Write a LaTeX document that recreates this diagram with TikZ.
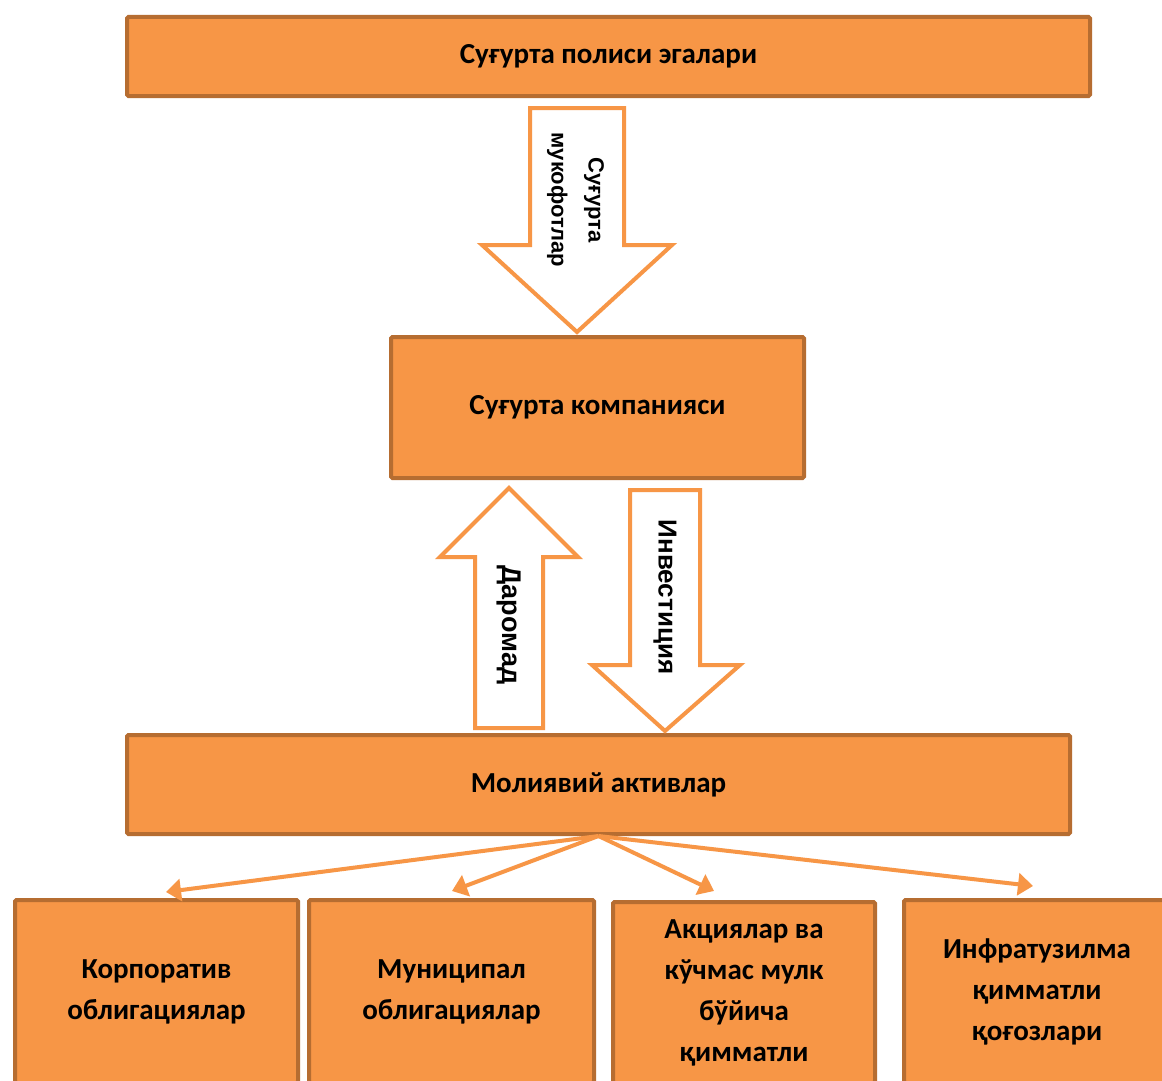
\documentclass[tikz,border=0pt]{standalone}
\usepackage{fontspec}
\setmainfont{Carlito}
\newfontfamily\arrowfont{Liberation Sans}
\usepackage{xcolor}
\usetikzlibrary{positioning,arrows.meta}
\definecolor{boxfill}{HTML}{F79646}
\definecolor{boxline}{HTML}{B66D31}
\begin{document}
\begin{tikzpicture}[x=1pt,y=-1pt,
    box/.style={draw=boxline,fill=boxfill,line width=4pt,rounded corners=1.5pt,
      inner sep=0pt,align=center,font=\bfseries\fontsize{29}{41}\selectfont},
    blockarrow/.style={draw=boxfill,fill=white,line width=4pt,line join=miter},
    arrowtext/.style={rotate=-90,align=center,font=\arrowfont\bfseries\fontsize{26}{30}\selectfont},
    link/.style={draw=boxfill,line width=4pt,-{Triangle[length=15pt,width=22pt]}}]
    \fill[white] (0,0) rectangle (1162,1081);
    \useasboundingbox (0,0) rectangle (1162,1081);
    \clip (0,0) rectangle (1162,1081);
    % boxes
    \node[box,minimum width=963pt,minimum height=79pt] (owners) at (608.5,56.5) {Суғурта полиси эгалари};
    \node[box,minimum width=413pt,minimum height=141pt] (company) at (597.5,407.5) {Суғурта компанияси};
    \node[box,minimum width=943pt,minimum height=99pt] (assets) at (598.5,784.5) {Молиявий активлар};
    \node[box,minimum width=283pt,minimum height=183pt] (corp) at (156.5,991.5) {Корпоратив\\облигациялар};
    \node[box,minimum width=285pt,minimum height=183pt] (muni) at (451.5,991.5) {Муниципал\\облигациялар};
    \node[box,minimum width=262pt,minimum height=181pt] (stock) at (744,992.5) {Акциялар ва\\кўчмас мулк\\бўйича\\қимматли};
    \node[box,minimum width=266pt,minimum height=183pt] (infra) at (1037,991.5) {Инфратузилма\\қимматли\\қоғозлари};
    % block arrows
    \draw[blockarrow] (530,108) -- (624,108) -- (624,245) -- (672,245) -- (577,332)
      -- (482,245) -- (530,245) -- cycle;
    \draw[blockarrow] (475,728) -- (475,557) -- (440,557) -- (509,488) -- (578,557)
      -- (543,557) -- (543,728) -- cycle;
    \draw[blockarrow] (630,490) -- (700,490) -- (700,665) -- (740,665) -- (665,731)
      -- (592,665) -- (630,665) -- cycle;
    \node[arrowtext,font=\arrowfont\bfseries\fontsize{22}{37}\selectfont] (premium) at (575.5,200) {Суғурта\\мукофотлар};
    \node[arrowtext,font=\arrowfont\bfseries\fontsize{27}{30}\selectfont] (income) at (509,625) {Даромад};
    \node[arrowtext] (invest) at (665,597) {Инвестиция};
    % links
    \coordinate (t1) at (166,892);
    \coordinate (t2) at (452,891);
    \coordinate (t3) at (714,891);
    \coordinate (t4) at (1033,886);
    \foreach \t in {t1,t2,t3,t4}
      \draw[link] (assets.south) -- (\t);
\end{tikzpicture}
\end{document}
